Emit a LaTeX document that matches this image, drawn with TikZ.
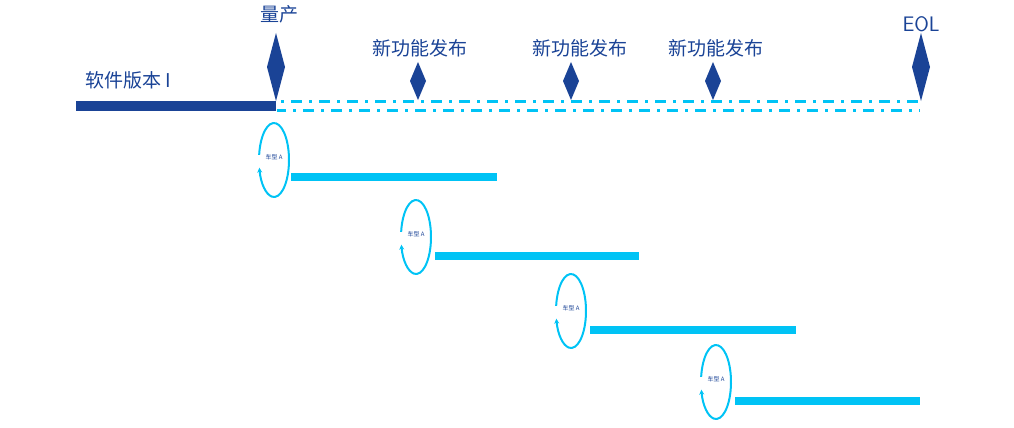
\documentclass[tikz,border=0pt]{standalone}
\usepackage{fontspec}
\setmainfont{Noto Sans CJK SC}
\usetikzlibrary{arrows.meta}
\definecolor{dblue}{HTML}{1A4396}
\definecolor{cyanb}{HTML}{00C3F5}
\tikzset{
  lbl/.style={font=\fontsize{19}{19}\selectfont, text=dblue, inner sep=0pt},
  bigdia/.style={fill=dblue, draw=none},
  cbar/.style={draw=cyanb, line width=8pt},
  loop/.style={draw=cyanb, line width=2pt, -{Stealth[length=5pt,width=5pt]}},
  car/.style={font=\fontsize{6}{6}\selectfont, text=dblue, inner sep=0pt},
  dl/.style={draw=cyanb, line width=3pt, dash pattern=on 11pt off 7pt on 3pt off 7pt}
}
\begin{document}
\begin{tikzpicture}[x=1pt,y=-1pt]
\useasboundingbox (0,0) rectangle (1014,428);
% labels
\node[lbl] (lv) at (128,80) {软件版本 I};
\node[lbl] (lm) at (279,14) {量产};
\node[lbl] (l1) at (420,48) {新功能发布};
\node[lbl] (l2) at (580,48) {新功能发布};
\node[lbl] (l3) at (716,48) {新功能发布};
\node[lbl, font=\sffamily\fontsize{21}{21}\selectfont] (le) at (921,24) {EOL};
% main bar
\coordinate (a0) at (76,106);
\coordinate (a1) at (276,106);
\draw[draw=dblue, line width=10pt] (a0) -- (a1);
% dashed lines
\coordinate (d0) at (277,101);
\coordinate (d1) at (920,101);
\coordinate (e0) at (277,110);
\coordinate (e1) at (920,110);
\draw[dl, dash phase=14pt] (d0) -- (d1);
\draw[dl, dash phase=2pt] (e0) -- (e1);
% diamonds
\fill[bigdia] (276,33) -- (285,67) -- (276,101) -- (267,67) -- cycle;
\fill[bigdia] (921,33) -- (930,67) -- (921,101) -- (912,67) -- cycle;
\foreach \x in {418,571,713}{
  \fill[bigdia] (\x,62) -- (\x+8,81) -- (\x,100) -- (\x-8,81) -- cycle;
}
% loops and bars
\foreach \cx/\cy/\bx/\bxe/\by/\nm in {274/160/291/497/177/c1, 416/237/435/639/256/c2, 571/311/590/796/330/c3, 716/382/735/920/401/c4}{
  \node[car] (\nm) at (\cx,\cy-3) {车型 A};
  \draw[loop] (\cx,\cy) ++(-172:15 and 37) arc[start angle=-172, end angle=168, x radius=15, y radius=37];
  \draw[cbar] (\bx,\by) -- (\bxe,\by);
}
\end{tikzpicture}
\end{document}
